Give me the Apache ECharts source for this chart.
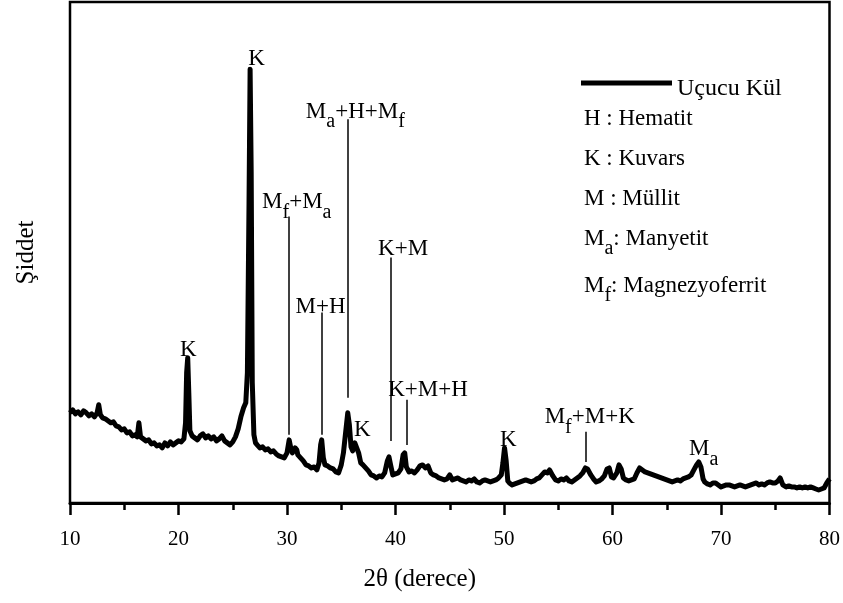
<!DOCTYPE html>
<html>
<head>
<meta charset="utf-8">
<title>XRD - Uçucu Kül</title>
<script src="https://cdn.jsdelivr.net/npm/echarts@6/dist/echarts.min.js"></script>
<style>
html, body { margin: 0; padding: 0; background: #fff; }
#chart { width: 843px; height: 603px; }
</style>
</head>
<body>
<div id="chart"></div>
<script>
// 2θ (derece) ve şiddet değerleri
const scan = [
    [10.0, 90], [10.25, 93], [10.5, 89], [10.75, 91], [11.0, 88], [11.25, 92], [11.5, 90], [11.75, 87],
    [12.0, 89], [12.25, 86], [12.5, 90], [12.65, 98], [12.8, 88], [13.0, 85], [13.25, 84], [13.5, 82],
    [13.75, 80], [14.0, 81], [14.25, 77], [14.5, 76], [14.75, 73], [15.0, 74], [15.25, 70], [15.5, 71],
    [15.75, 67], [16.0, 68], [16.2, 66], [16.35, 80], [16.5, 66], [16.75, 64], [17.0, 62], [17.25, 63],
    [17.5, 59], [17.75, 60], [18.0, 57], [18.25, 58], [18.5, 55], [18.75, 60], [19.0, 57], [19.25, 61],
    [19.5, 58], [19.75, 60], [20.0, 62], [20.25, 61], [20.5, 64], [20.65, 80], [20.75, 130], [20.85, 145],
    [20.95, 110], [21.05, 72], [21.25, 67], [21.5, 65], [21.75, 63], [22.0, 67], [22.25, 69], [22.5, 65],
    [22.75, 67], [23.0, 64], [23.25, 66], [23.5, 62], [23.75, 64], [24.0, 67], [24.25, 62], [24.5, 60],
    [24.75, 58], [25.0, 61], [25.25, 66], [25.5, 74], [25.75, 86], [26.0, 95], [26.2, 100], [26.35, 130],
    [26.5, 300], [26.6, 433], [26.7, 330], [26.8, 120], [26.95, 68], [27.1, 60], [27.25, 58], [27.5, 55],
    [27.75, 56], [28.0, 53], [28.25, 54], [28.5, 51], [28.75, 52], [29.0, 49], [29.25, 47], [29.5, 46],
    [29.75, 45], [30.0, 50], [30.2, 63], [30.35, 55], [30.5, 50], [30.75, 55], [30.9, 53], [31.0, 48],
    [31.25, 45], [31.5, 42], [31.75, 38], [32.0, 37], [32.25, 35], [32.5, 36], [32.75, 33], [32.95, 40],
    [33.1, 58], [33.2, 63], [33.35, 45], [33.5, 38], [33.75, 37], [34.0, 35], [34.25, 34], [34.5, 31],
    [34.75, 30], [35.0, 38], [35.2, 50], [35.4, 70], [35.6, 90], [35.75, 78], [35.9, 56], [36.05, 52],
    [36.25, 60], [36.4, 61], [36.6, 50], [36.8, 40], [37.0, 38], [37.25, 35], [37.5, 32], [37.75, 28],
    [38.0, 27], [38.25, 25], [38.5, 27], [38.75, 26], [39.0, 30], [39.25, 42], [39.4, 46], [39.55, 38],
    [39.75, 28], [40.0, 29], [40.25, 30], [40.5, 34], [40.7, 48], [40.85, 50], [41.0, 36], [41.25, 31],
    [41.5, 32], [41.75, 30], [42.0, 33], [42.25, 37], [42.5, 38], [42.75, 35], [43.0, 37], [43.25, 30],
    [43.5, 28], [43.75, 27], [44.0, 25], [44.25, 24], [44.5, 23], [44.75, 24], [45.0, 28], [45.25, 23],
    [45.5, 24], [45.75, 25], [46.0, 23], [46.25, 22], [46.5, 21], [46.75, 23], [47.0, 22], [47.25, 24],
    [47.5, 21], [47.75, 20], [48.0, 22], [48.25, 23], [48.5, 22], [48.75, 21], [49.0, 22], [49.25, 23],
    [49.5, 25], [49.75, 28], [49.9, 40], [50.05, 55], [50.2, 42], [50.35, 22], [50.5, 20], [50.75, 18],
    [51.0, 19], [51.25, 20], [51.5, 21], [51.75, 22], [52.0, 23], [52.25, 22], [52.5, 21], [52.75, 22],
    [53.0, 24], [53.25, 25], [53.5, 28], [53.75, 31], [54.0, 30], [54.2, 33], [54.5, 27], [54.75, 23],
    [55.0, 22], [55.25, 24], [55.5, 23], [55.75, 25], [56.0, 22], [56.25, 21], [56.5, 23], [56.75, 25],
    [57.0, 27], [57.25, 30], [57.5, 35], [57.7, 34], [58.0, 28], [58.25, 24], [58.5, 21], [58.75, 22],
    [59.0, 24], [59.25, 27], [59.5, 34], [59.7, 35], [59.9, 26], [60.1, 25], [60.4, 30], [60.6, 38],
    [60.8, 34], [61.0, 25], [61.25, 23], [61.5, 22], [61.75, 23], [62.0, 24], [62.25, 30], [62.5, 35],
    [62.75, 33], [63.0, 31], [63.25, 30], [63.5, 29], [63.75, 28], [64.0, 27], [64.25, 26], [64.5, 25],
    [64.75, 24], [65.0, 23], [65.25, 22], [65.5, 21], [65.75, 22], [66.0, 23], [66.25, 22], [66.5, 24],
    [66.75, 25], [67.0, 26], [67.25, 28], [67.5, 33], [67.75, 38], [67.95, 41], [68.15, 36], [68.35, 24],
    [68.5, 21], [68.75, 19], [69.0, 18], [69.25, 20], [69.5, 20], [69.75, 18], [70.0, 16], [70.25, 17],
    [70.5, 18], [70.75, 18], [71.0, 17], [71.25, 16], [71.5, 17], [71.75, 18], [72.0, 17], [72.25, 16],
    [72.5, 17], [72.75, 18], [73.0, 19], [73.25, 20], [73.5, 18], [73.75, 19], [74.0, 18], [74.25, 20],
    [74.5, 21], [74.75, 20], [75.0, 20], [75.25, 22], [75.45, 25], [75.7, 18], [76.0, 16], [76.25, 17],
    [76.5, 16], [76.75, 16], [77.0, 15], [77.25, 16], [77.5, 15], [77.75, 16], [78.0, 15], [78.25, 16],
    [78.5, 15], [78.75, 14], [79.0, 13], [79.25, 14], [79.5, 15], [79.75, 20], [80.0, 24]
];

// pik etiketleri (2θ, şiddet)
const peakTags = [
    { x: 20.9, y: 148, text: 'K' },
    { x: 27.2, y: 439, text: 'K' },
    { x: 30.9, y: 296, text: '{n|M}{s|f}{n|+M}{s|a}' },
    { x: 33.1, y: 191, text: 'M+H' },
    { x: 36.3, y: 386, text: '{n|M}{s|a}{n|+H+M}{s|f}' },
    { x: 36.95, y: 68, text: 'K' },
    { x: 40.7, y: 249, text: 'K+M' },
    { x: 43.0, y: 108, text: 'K+M+H' },
    { x: 50.4, y: 58, text: 'K' },
    { x: 57.9, y: 81, text: '{n|M}{s|f}{n|+M+K}' },
    { x: 68.4, y: 49, text: '{n|M}{s|a}' }
];
// işaret çizgileri: [2θ, üst, alt]
const tagLines = [
    [30.15, 286, 68],
    [33.2, 190, 68],
    [35.57, 383, 105],
    [39.53, 245, 62],
    [41.0, 103, 58],
    [57.56, 71, 41]
];

const phaseKeys = [
    'H : Hematit',
    'K : Kuvars',
    'M : Müllit',
    '{n|M}{s|a}{n|: Manyetit}',
    '{n|M}{s|f}{n|: Magnezyoferrit}'
];

const serif = "'Liberation Serif', 'DejaVu Serif', serif";
const rich = {
    n: { fontFamily: serif, fontSize: 23, color: '#000', padding: [0, 0, 9, 0], verticalAlign: 'bottom' },
    s: { fontFamily: serif, fontSize: 20, color: '#000', verticalAlign: 'bottom' }
};

var myChart = echarts.init(document.getElementById('chart'));

myChart.setOption({
    animation: false,
    textStyle: { fontFamily: serif, color: '#000' },
    grid: {
        left: 70,
        right: 12,
        top: 2,
        bottom: 100,
        show: true,
        borderColor: '#000',
        borderWidth: 2.5
    },
    legend: {
        left: 576,
        top: 60,
        icon: 'rect',
        itemWidth: 91,
        itemHeight: 5,
        itemGap: 8,
        formatter: '{g| }\n{u|{name}}',
        textStyle: {
            fontFamily: serif, fontSize: 24, color: '#000',
            rich: {
                g: { fontSize: 10, lineHeight: 12 },
                u: { fontFamily: serif, fontSize: 24, color: '#000', lineHeight: 26 }
            }
        },
        data: ['Uçucu Kül']
    },
    xAxis: {
        type: 'value',
        min: 10,
        max: 80,
        interval: 10,
        name: '2θ (derece)',
        nameLocation: 'middle',
        nameGap: 64,
        nameTextStyle: { fontFamily: serif, fontSize: 25, color: '#000', padding: [0, 60, 0, 0] },
        axisLine: { lineStyle: { color: '#000', width: 3 } },
        axisTick: { inside: false, length: 12, lineStyle: { color: '#000', width: 2.5 } },
        minorTick: { show: true, splitNumber: 2, length: 7, lineStyle: { color: '#000', width: 2.5 } },
        axisLabel: { fontFamily: serif, fontSize: 21, color: '#000', margin: 26 },
        splitLine: { show: false }
    },
    yAxis: {
        type: 'value',
        min: 0,
        max: 500,
        name: 'Şiddet',
        nameLocation: 'middle',
        nameGap: 31,
        nameTextStyle: { fontFamily: serif, fontSize: 25, color: '#000' },
        axisLine: { show: false },
        axisTick: { show: false },
        axisLabel: { show: false },
        splitLine: { show: false }
    },
    series: [
        {
            name: 'Uçucu Kül',
            type: 'line',
            data: scan,
            symbol: 'none',
            lineStyle: { color: '#000', width: 5, join: 'round' },
            itemStyle: { color: '#000' },
            markLine: {
                silent: true,
                symbol: 'none',
                label: { show: false },
                lineStyle: { color: '#000', width: 1.5, type: 'solid' },
                data: tagLines.map(d => [{ coord: [d[0], d[1]] }, { coord: [d[0], d[2]] }])
            },
            markPoint: {
                silent: true,
                symbol: 'circle',
                symbolSize: 0,
                label: {
                    show: true,
                    position: 'inside',
                    fontFamily: serif,
                    fontSize: 23,
                    color: '#000',
                    rich: rich
                },
                data: peakTags.map(t => ({
                    coord: [t.x, t.y],
                    value: 0,
                    label: { formatter: t.text.indexOf('{') === 0 ? t.text : '{n|' + t.text + '}' }
                }))
            }
        }
    ],
    graphic: phaseKeys.map((k, i) => ({
        type: 'text',
        left: 584,
        top: [107, 147, 187, 227, 274][i],
        style: {
            text: k.indexOf('{') === 0 ? k : '{n|' + k + '}',
            rich: rich
        }
    }))
});
</script>
</body>
</html>
